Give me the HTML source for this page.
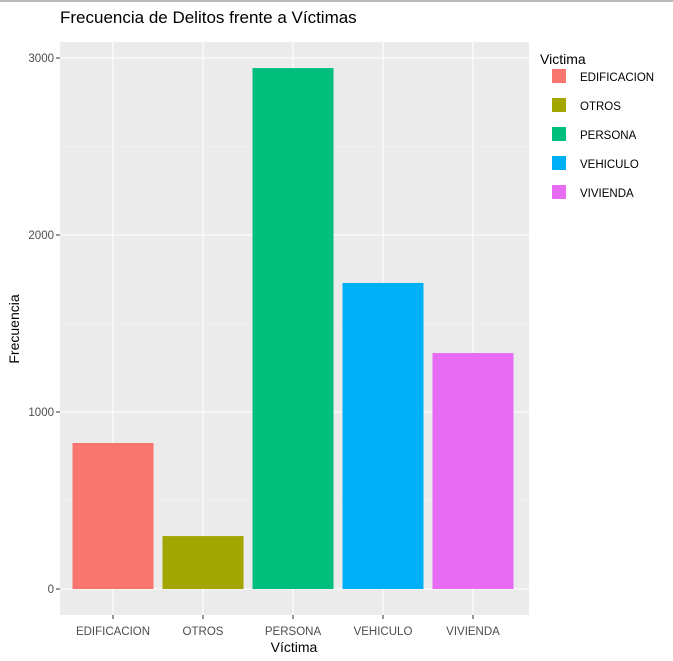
<!DOCTYPE html>
<html><head><meta charset="utf-8"><style>
body{margin:0;background:#fff;font-family:"Liberation Sans","DejaVu Sans",sans-serif;}
</style></head><body>
<svg width="673" height="656" xmlns="http://www.w3.org/2000/svg">
<line x1="0" y1="1" x2="673" y2="1" stroke="#bbb" stroke-width="2"/>
<text x="60" y="23" font-size="17" fill="#000">Frecuencia de Delitos frente a Víctimas</text>
<rect x="60" y="42" width="469" height="573" fill="#ebebeb"/>
<g id="grid"></g>
<g id="bars"></g>
<g id="axes"></g>
<text x="294" y="656" dy="-4" font-size="14" text-anchor="middle" fill="#000">Víctima</text>
<text transform="translate(19,329) rotate(-90)" font-size="14" text-anchor="middle" fill="#000">Frecuencia</text>
<g id="legend"></g>
</svg>
<script>
const categories=["EDIFICACION","OTROS","PERSONA","VEHICULO","VIVIENDA"];
const values=[825,299,2943,1729,1333];
const colors=["#F8766D","#A3A500","#00BF7D","#00B0F6","#E76BF3"];
const yTicks=[0,1000,2000,3000];
const yMinor=[500,1500,2500];
const NS="http://www.w3.org/2000/svg";
function y(v){return 589-v*0.177;}
function x(i){return 113+i*90;}
function mk(t,a,p){const e=document.createElementNS(NS,t);for(const k in a)e.setAttribute(k,a[k]);document.getElementById(p).appendChild(e);return e;}
yMinor.forEach(v=>{const l=mk('line',{x1:60,x2:529,y1:y(v),y2:y(v),stroke:'#f5f5f5','stroke-width':0.6},'grid');

});
yTicks.forEach(v=>{const l=mk('line',{x1:60,x2:529,y1:y(v),y2:y(v),stroke:'#fff','stroke-width':1.1},'grid');


const t=mk('line',{x1:56,x2:60,y1:y(v),y2:y(v),stroke:'#333'},'axes');


const tx=mk('text',{x:54,y:y(v)+4,'font-size':11.5,'text-anchor':'end',fill:'#4d4d4d'},'axes');tx.textContent=v;

});
categories.forEach((c,i)=>{const g=mk('line',{x1:x(i),x2:x(i),y1:42,y2:615,stroke:'#fff','stroke-width':1.1},'grid');


const b=mk('rect',{x:x(i)-40.5,y:y(values[i]),width:81,height:y(0)-y(values[i]),fill:colors[i]},'bars');


const t=mk('line',{x1:x(i),x2:x(i),y1:615,y2:619,stroke:'#333'},'axes');


const tx=mk('text',{x:x(i),y:635,'font-size':11.5,'text-anchor':'middle',fill:'#4d4d4d'},'axes');tx.textContent=c;


const lk=mk('rect',{x:552,y:69+i*29,width:14,height:14,fill:colors[i]},'legend');


const lt=mk('text',{x:580,y:81+i*29,'font-size':11.5,fill:'#000'},'legend');lt.textContent=c;

});
const lti=mk('text',{x:540,y:64,'font-size':14,fill:'#000'},'legend');lti.textContent='Victima';


</script>
</body></html>
